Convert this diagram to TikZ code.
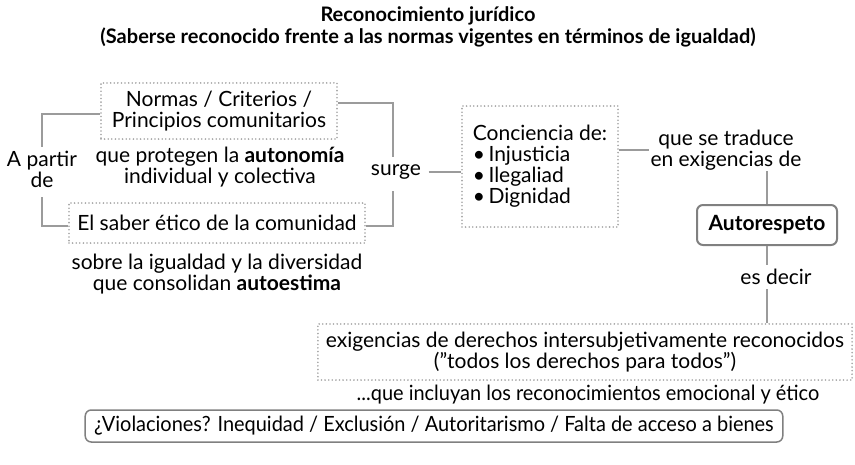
\documentclass[tikz,border=0pt]{standalone}
\usepackage{fontspec}
\setmainfont{Lato}
\newfontfamily\narrowfont[FakeStretch=0.95]{Lato}
\definecolor{linkgray}{HTML}{9B9B9B}
\definecolor{dotgray}{HTML}{A3A3A3}
\definecolor{boxgray}{HTML}{808080}

\begin{document}
\begin{tikzpicture}[x=1pt, y=-1pt,
   every node/.style={font=\fontsize{21}{21}\selectfont, inner sep=1pt, align=center},
   dotbox/.style={draw=dotgray, line width=1.8pt, dash pattern=on 0pt off 3.6pt,
                  line cap=round, inner sep=8pt},
   roundbox/.style={draw=boxgray, rounded corners=6pt},
   link/.style={draw=linkgray, line width=1.2pt}]

\useasboundingbox (0,0) rectangle (855,464);

\node[font=\bfseries\fontsize{20}{22}\selectfont] (title) at (428,27)
    {Reconocimiento jurídico\\(Saberse reconocido frente a las normas vigentes en términos de igualdad)};

\node[dotbox, minimum width=236pt, minimum height=56pt] (normas) at (219,111)
    {Normas / Criterios /\\Principios comunitarios};
\node (protegen) at (220,167) {que protegen la \textbf{autonomía}\\individual y colectiva};
\node[dotbox, minimum width=296pt, minimum height=40pt] (saber) at (217,223)
    {El saber ético de la comunidad};
\node (sobre) at (217,274) {sobre la igualdad y la diversidad\\que consolidan \textbf{autoestima}};
\node[inner sep=4pt] (apartir) at (42,169) {A partir\\de};
\node[inner sep=7.5pt] (surge) at (396,172) {surge};

\node[dotbox, align=left, minimum width=156pt, minimum height=121pt] (conciencia) at (540,166.5)
    {Conciencia de:\\\textbullet\,Injusticia\\\textbullet\,Ilegaliad\\\textbullet\,Dignidad};
\node (traduce) at (726,150) {que se traduce\\en exigencias de};
\node[roundbox, line width=2pt, minimum width=140pt, minimum height=40pt,
      font=\bfseries\fontsize{21}{21}\selectfont] (autorespeto) at (767,225) {Autorespeto};
\node[inner sep=4pt] (esdecir) at (776,277) {es decir};

\node[dotbox, anchor=east] (exigencias) at (853,352)
    {exigencias de derechos intersubjetivamente reconocidos\\(”todos los derechos para todos”)};
\node[font=\narrowfont\fontsize{21}{21}\selectfont] (incluyan) at (588,395)
    {...que incluyan los reconocimientos emocional y ético};
\node[roundbox, line width=1.5pt, minimum height=32pt, inner xsep=9pt,
      font=\narrowfont\fontsize{21}{21}\selectfont] (violaciones) at (434,426)
    {¿Violaciones? Inequidad / Exclusión / Autoritarismo / Falta de acceso a bienes};

\draw[link] ([yshift=-3pt]normas.west) -| (apartir.north);
\draw[link] ([yshift=-6pt]apartir.south) |- ([yshift=-3pt]saber.west);
\draw[link] ([yshift=8pt]normas.east) -| ([xshift=-3pt]surge.north);
\draw[link] ([xshift=-3pt, yshift=-4pt]surge.south) |- ([yshift=-3pt]saber.east);
\draw[link] (surge.east) -- (surge.east -| conciencia.west);
\draw[link] (traduce.west -| conciencia.east) -- (traduce.west);
\draw[link] (autorespeto.north) -- (autorespeto.north |- traduce.south);
\draw[link] (autorespeto.south) -- (autorespeto.south |- esdecir.north);
\draw[link] (autorespeto.south |- esdecir.south) -- (autorespeto.south |- exigencias.north);

\end{tikzpicture}
\end{document}
